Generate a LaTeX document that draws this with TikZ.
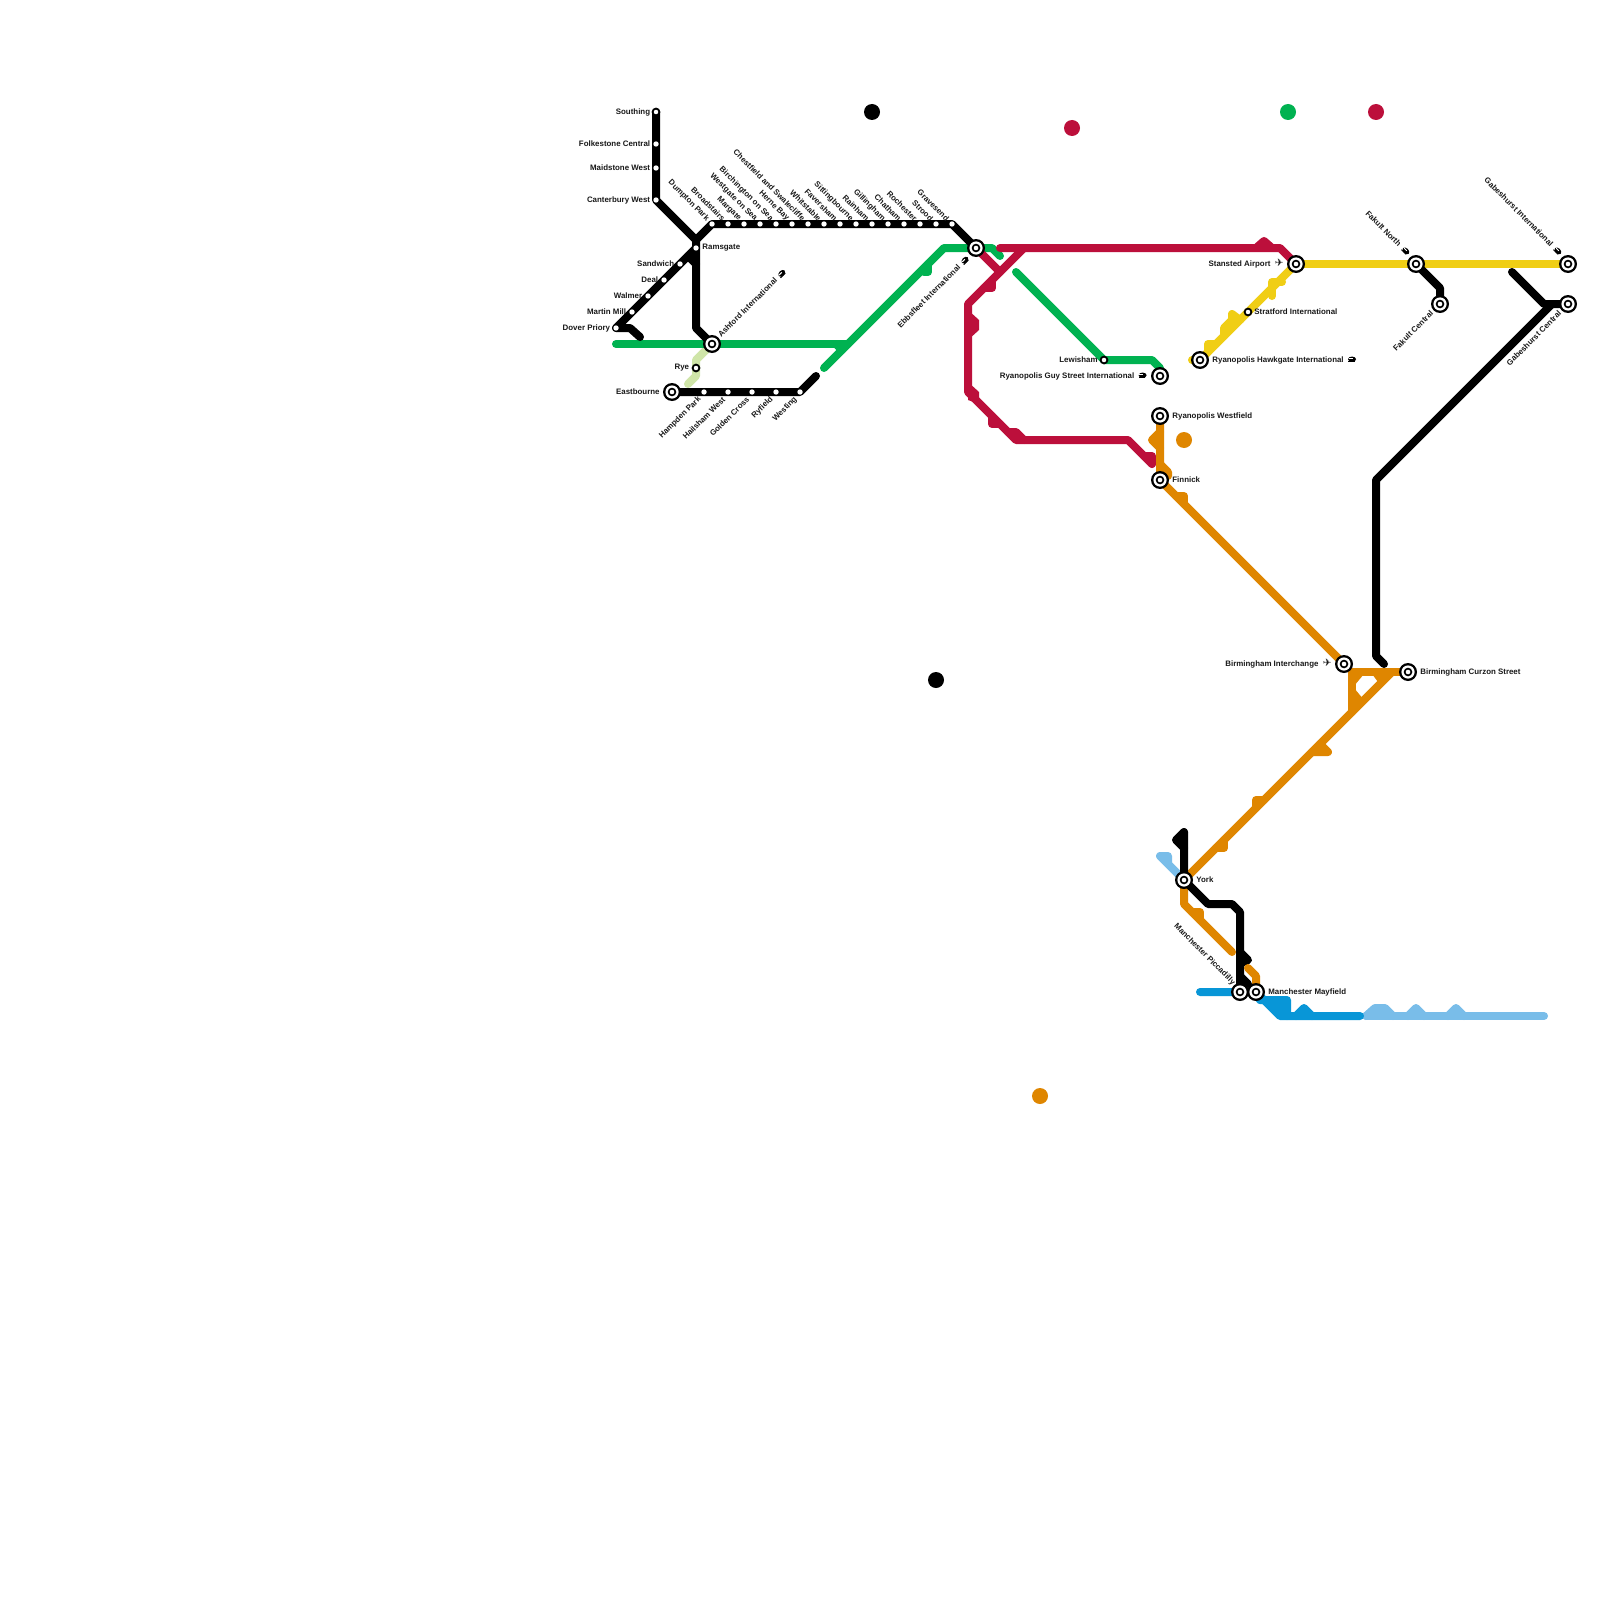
\documentclass[tikz,border=0pt]{standalone}
\usepackage{fontspec}
\setmainfont{Liberation Sans}
\newfontfamily\symfont{DejaVu Sans}
\definecolor{cblack}{HTML}{000000}
\definecolor{cgreen}{HTML}{00B251}
\definecolor{ccrim}{HTML}{BC0F3B}
\definecolor{cyel}{HTML}{F0CE15}
\definecolor{corg}{HTML}{DF8600}
\definecolor{cblue}{HTML}{0896D7}
\definecolor{clblue}{HTML}{79BDE9}
\definecolor{clgreen}{HTML}{CFE5A8}
\pgfdeclarelayer{bg}
\pgfsetlayers{bg,main}
\newcommand{\trn}{\tikz[baseline=-1.4pt,x=1pt,y=1pt]{\fill[black] (0,0) ellipse (2pt and 1.35pt); \fill[white] (-1.6,0.1) rectangle (0.3,0.55); \fill[black] (-2,-1.4) rectangle (1.3,-0.9);}}
\newcommand{\pln}{{\symfont\fontsize{5.2}{5}\selectfont\char"2708}}
\tikzset{
 ln/.style={line width=4pt,line cap=round,line join=round},
 interch/.style={circle,fill=black,inner sep=0pt,minimum size=9pt,path picture={
   \fill[white] (path picture bounding box.center) circle (3.3pt);
   \fill[black] (path picture bounding box.center) circle (2.15pt);
   \fill[white] (path picture bounding box.center) circle (1.15pt);}},
 stop/.style={circle,fill=white,draw=black,line width=0.9pt,inner sep=0pt,minimum size=3.4pt},
 stopw/.style={circle,fill=white,inner sep=0pt,minimum size=2.7pt},
 txt/.style={font=\bfseries\fontsize{3.95}{4.5}\selectfont,inner sep=0pt,text=black!90},
 txtL/.style={txt,anchor=east},
 txtR/.style={txt,anchor=west},
 txtDE/.style={txt,anchor=east,rotate=-45},
 txtUE/.style={txt,anchor=east,rotate=45},
 txtUW/.style={txt,anchor=west,rotate=45},
 spot/.style={circle,inner sep=0pt,minimum size=8pt},
}
\begin{document}
\begin{tikzpicture}[x=0.5pt,y=-0.5pt]
\useasboundingbox (0,0) rectangle (1600,1600);
% stations
\node[stop] (southing) at (656,112) {};
\node[stopw] (folk) at (656,144) {};
\node[stopw] (maid) at (656,168) {};
\node[stopw] (cant) at (656,200) {};
\node[stopw] (rams) at (696,248) {};
\node[stopw] (sand) at (680,264) {};
\node[stopw] (deal) at (664,280) {};
\node[stopw] (walm) at (648,296) {};
\node[stopw] (mart) at (632,312) {};
\node[stopw] (dover) at (616,328) {};
\node[stopw] (t1) at (712,224) {};
\node[stopw] (t2) at (728,224) {};
\node[stopw] (t3) at (744,224) {};
\node[stopw] (t4) at (760,224) {};
\node[stopw] (t5) at (776,224) {};
\node[stopw] (t6) at (792,224) {};
\node[stopw] (t7) at (808,224) {};
\node[stopw] (t8) at (824,224) {};
\node[stopw] (t9) at (840,224) {};
\node[stopw] (t10) at (856,224) {};
\node[stopw] (t11) at (872,224) {};
\node[stopw] (t12) at (888,224) {};
\node[stopw] (t13) at (904,224) {};
\node[stopw] (t14) at (920,224) {};
\node[stopw] (t15) at (936,224) {};
\node[stopw] (t16) at (952,224) {};
\node[interch] (ashf) at (712,344) {};
\node[stop] (rye) at (696,368) {};
\node[interch] (eastb) at (672,392) {};
\node[stopw] (hamp) at (704,392) {};
\node[stopw] (hail) at (728,392) {};
\node[stopw] (gold) at (752,392) {};
\node[stopw] (ryf) at (776,392) {};
\node[stopw] (west) at (800,392) {};
\node[interch] (ebbs) at (976,248) {};
\node[interch] (stan) at (1296,264) {};
\node[stop] (strat) at (1248,312) {};
\node[interch] (hawk) at (1200,360) {};
\node[stop] (lewi) at (1104,360) {};
\node[interch] (guy) at (1160,376) {};
\node[interch] (wfield) at (1160,416) {};
\node[interch] (finn) at (1160,480) {};
\node[interch] (bint) at (1344,664) {};
\node[interch] (bcur) at (1408,672) {};
\node[interch] (york) at (1184,880) {};
\node[interch] (picc) at (1240,992) {};
\node[interch] (mayf) at (1256,992) {};
\node[interch] (fnorth) at (1416,264) {};
\node[interch] (fcen) at (1440,304) {};
\node[interch] (gint) at (1568,264) {};
\node[interch] (gcen) at (1568,304) {};
% spots
\node[spot,fill=black] (s1) at (872,112) {};
\node[spot,fill=black] (s2) at (936,680) {};
\node[spot,fill=ccrim] (s3) at (1072,128) {};
\node[spot,fill=ccrim] (s4) at (1376,112) {};
\node[spot,fill=cgreen] (s5) at (1288,112) {};
\node[spot,fill=corg] (s6) at (1184,440) {};
\node[spot,fill=corg] (s7) at (1040,1096) {};
% labels
\node[txtL] (l1) at (650.5,112) {Southing};
\node[txtL] (l2) at (650.5,144) {Folkestone Central};
\node[txtL] (l3) at (650.5,168) {Maidstone West};
\node[txtL] (l4) at (650.5,200) {Canterbury West};
\node[txtR] (l5) at (702,248) {Ramsgate};
\node[txtL] (l6) at (674.5,264) {Sandwich};
\node[txtL] (l7) at (658.5,280) {Deal};
\node[txtL] (l8) at (642.5,296) {Walmer};
\node[txtL] (l9) at (626.5,312) {Martin Mill};
\node[txtL] (l10) at (610.5,328) {Dover Priory};
\node[txtDE] (lt1) at (708,220) {Dumpton Park};
\node[txtDE] (lt2) at (724,220) {Broadstairs};
\node[txtDE] (lt3) at (740,220) {Margate};
\node[txtDE] (lt4) at (756,220) {Westgate on Sea};
\node[txtDE] (lt5) at (772,220) {Birchington on Sea};
\node[txtDE] (lt6) at (788,220) {Herne Bay};
\node[txtDE] (lt7) at (804,220) {Chestfield and Swalecliffe};
\node[txtDE] (lt8) at (820,220) {Whitstable};
\node[txtDE] (lt9) at (836,220) {Faversham};
\node[txtDE] (lt10) at (852,220) {Sittingbourne};
\node[txtDE] (lt11) at (868,220) {Rainham};
\node[txtDE] (lt12) at (884,220) {Gillingham};
\node[txtDE] (lt13) at (900,220) {Chatham};
\node[txtDE] (lt14) at (916,220) {Rochester};
\node[txtDE] (lt15) at (932,220) {Strood};
\node[txtDE] (lt16) at (948,220) {Gravesend};
\node[txtUW] (l11) at (719,336) {Ashford International \ \trn};
\node[txtL] (l12) at (689.5,368) {Rye};
\node[txtL] (l13) at (660,392) {Eastbourne};
\node[txtUE] (l14) at (700,398) {Hampden Park};
\node[txtUE] (l15) at (724,398) {Hailsham West};
\node[txtUE] (l16) at (748,398) {Golden Cross};
\node[txtUE] (l17) at (772,398) {Ryfield};
\node[txtUE] (l18) at (796,398) {Westing};
\node[txtUE] (l19) at (968,257) {Ebbsfleet International \ \trn};
\node[txtL] (l20) at (1098,360) {Lewisham};
\node[txtL] (l21) at (1147,376) {Ryanopolis Guy Street International \ \trn};
\node[txtR] (l22) at (1212,360) {Ryanopolis Hawkgate International \ \trn};
\node[txtL] (l23) at (1284,264) {Stansted Airport \ \pln};
\node[txtR] (l24) at (1254,312) {Stratford International};
\node[txtR] (l25) at (1172,416) {Ryanopolis Westfield};
\node[txtR] (l26) at (1172,480) {Finnick};
\node[txtL] (l27) at (1332,664) {Birmingham Interchange \ \pln};
\node[txtR] (l28) at (1420,672) {Birmingham Curzon Street};
\node[txtR] (l29) at (1196,880) {York};
\node[txtDE] (l30) at (1234,984) {Manchester Piccadilly};
\node[txtR] (l31) at (1268,992) {Manchester Mayfield};
\node[txtDE] (l32) at (1409,254) {Fakult North \ \trn};
\node[txtUE] (l33) at (1432,312) {Fakult Central};
\node[txtDE] (l34) at (1561,254) {Gabeshurst International \ \trn};
\node[txtUE] (l35) at (1560,312) {Gabeshurst Central};
\begin{pgfonlayer}{bg}
\fill[white] (0,0) rectangle (1600,1600);
% light green
\draw[ln,clgreen] (ashf.center) -- (696,360) -- (rye.center) -- (696,376) -- (688,384);
% light blue
\draw[ln,clblue] (york.center) -- (1160,856) -- (1168,856) -- (1168,864);
\draw[ln,clblue] (1366,1016) -- (1544,1016);
\draw[ln,clblue] (1366,1016) -- (1375,1008) -- (1385,1008) -- (1393,1016);
\draw[ln,clblue] (1408,1016) -- (1416,1008) -- (1424,1016);
\draw[ln,clblue] (1448,1016) -- (1456,1008) -- (1464,1016);
% blue
\draw[ln,cblue] (1200,992) -- (picc.center) -- (mayf.center) -- (1280,1016) -- (1360,1016);
\draw[ln,cblue] (mayf.center) -- (1260,1000) -- (1287,1000) -- (1287,1016);
\fill[cblue] (1262,1000) -- (1287,1000) -- (1287,1016) -- (1278,1016) -- cycle;
\draw[ln,cblue] (1296,1016) -- (1304,1008) -- (1312,1016);
% green
\draw[ln,cgreen] (616,344) -- (ashf.center) -- (848,344);
\draw[ln,cgreen] (824,368) -- (944,248) -- (ebbs.center) -- (992,248) -- (1000,256);
\draw[ln,cgreen] (928,264) -- (928,272) -- (924,272);
\draw[ln,cgreen] (836,344) -- (842,350);
\draw[ln,cgreen] (1016,272) -- (lewi.center) -- (1152,360) -- (1160,368) -- (guy.center);
% crimson
\draw[ln,ccrim] (1000,248) -- (1280,248) -- (stan.center);
\draw[ln,ccrim] (1256,248) -- (1264,241) -- (1272,248);
\draw[ln,ccrim] (1024,248) -- (968,304) -- (968,392) -- (1016,440) -- (1128,440) -- (1152,464);
\draw[ln,ccrim] (ebbs.center) -- (1000,272);
\draw[ln,ccrim] (992,280) -- (992,288) -- (984,288);
\fill[ccrim] (968,310) -- (979,320) -- (979,330) -- (968,340) -- cycle;
\fill[ccrim] (968,382) -- (979,392) -- (979,404) -- (968,400) -- cycle;
\draw[ln,ccrim] (992,416) -- (992,424) -- (1000,424);
\draw[ln,ccrim] (1008,432) -- (1016,432) -- (1024,440);
\draw[ln,ccrim] (1144,456) -- (1152,456) -- (1152,464);
% yellow
\draw[ln,cyel] (stan.center) -- (hawk.center);
\draw[ln,cyel] (stan.center) -- (fnorth.center) -- (gint.center);
\draw[ln,cyel] (1192,360) -- (hawk.center);
\draw[ln,cyel] (1208,352) -- (1208,344) -- (1216,344);
\draw[ln,cyel] (1224,336) -- (1224,328) -- (1232,320) -- (1232,314) -- (1240,320);
\draw[ln,cyel] (1272,296) -- (1272,282) -- (1282,282);
% orange
\draw[ln,corg] (wfield.center) -- (finn.center) -- (bint.center);
\draw[ln,corg] (1160,432) -- (1152,440) -- (1160,448);
\draw[ln,corg] (1160,464) -- (1168,472) -- (1168,476);
\draw[ln,corg] (1176,496) -- (1184,496) -- (1184,504);
\draw[ln,corg] (york.center) -- (1392,672);
\draw[ln,corg] (bcur.center) -- (1352,672) -- (1352,712);
\fill[corg] (1354,674) -- (1364,674) -- (1354,686) -- cycle;
\fill[corg] (1354,688) -- (1364,700) -- (1354,708) -- cycle;
\fill[corg] (1372,674) -- (1386,674) -- (1378,682) -- cycle;
\draw[ln,corg] (1320,744) -- (1328,752) -- (1312,752);
\draw[ln,corg] (1256,808) -- (1256,800) -- (1264,800);
\draw[ln,corg] (1224,840) -- (1224,848) -- (1216,848);
\draw[ln,corg] (york.center) -- (1184,904) -- (1232,952);
\draw[ln,corg] (1192,912) -- (1200,912) -- (1200,920);
% black
\draw[ln,black] (southing.center) -- (cant.center) -- (696,240) -- (rams.center);
\draw[ln,black] (696,240) -- (t1.center) -- (t16.center) -- (ebbs.center);
\draw[ln,black] (dover.center) -- (rams.center) -- (696,328) -- (ashf.center);
\draw[ln,black] (688,256) -- (696,264);
\draw[ln,black] (dover.center) -- (630,328) -- (640,337);
\draw[ln,black] (eastb.center) -- (west.center) -- (816,376);
\draw[ln,black] (1184,832) -- (1184,880) -- (1208,904) -- (1232,904) -- (1240,912) -- (picc.center);
\draw[ln,black] (1184,832) -- (1176,840) -- (1184,848);
\draw[ln,black] (1240,952) -- (1248,960) -- (1240,964);
\draw[ln,black] (1240,976) -- (1248,984);
\draw[ln,black] (1384,664) -- (1376,656) -- (1376,480) -- (1552,304);
\draw[ln,black] (1512,272) -- (1544,304) -- (gcen.center);
\draw[ln,black] (fnorth.center) -- (1440,288) -- (fcen.center);
% orange above black
\draw[ln,corg] (1248,968) -- (1256,976) -- (mayf.center);
\end{pgfonlayer}
\end{tikzpicture}
\end{document}
